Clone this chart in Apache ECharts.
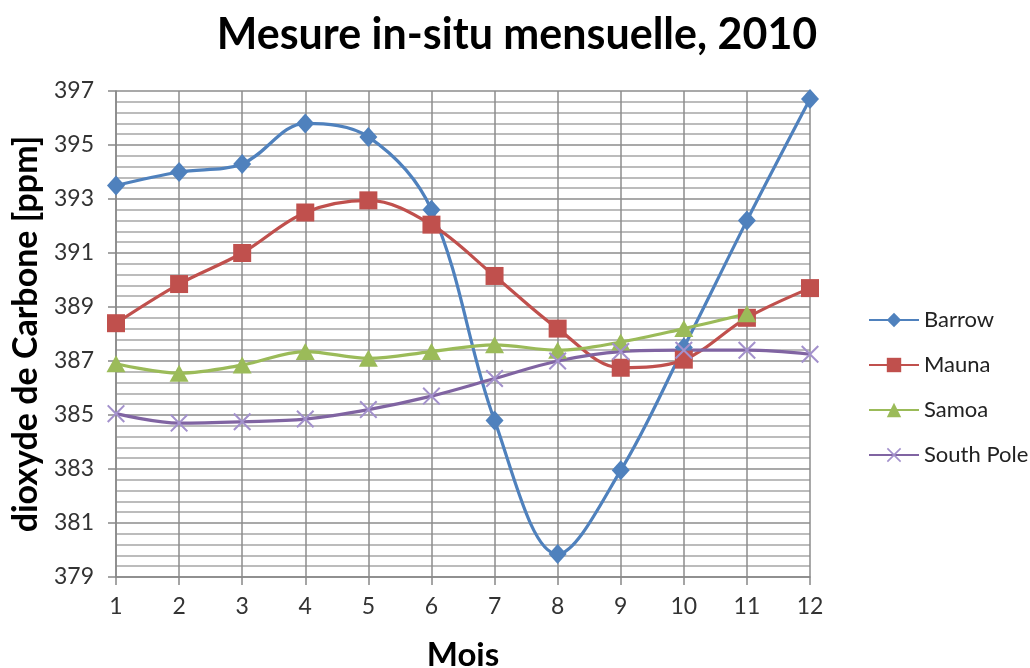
<!DOCTYPE html>
<html>
<head>
<meta charset="utf-8">
<script src="https://cdn.jsdelivr.net/npm/echarts@6/dist/echarts.min.js"></script>
<style>
  html, body { margin: 0; padding: 0; background: #fff; }
  #chart { width: 1030px; height: 668px; }
</style>
</head>
<body>
<div id="chart"></div>
<script>
const months = ["1", "2", "3", "4", "5", "6", "7", "8", "9", "10", "11", "12"];
const barrow = [393.5, 394.0, 394.3, 395.8, 395.3, 392.6, 384.8, 379.85, 382.95, 387.5, 392.2, 396.7];
const mauna = [388.4, 389.85, 391.0, 392.5, 392.95, 392.05, 390.15, 388.2, 386.75, 387.05, 388.6, 389.7];
const samoa = [386.9, 386.55, 386.85, 387.35, 387.1, 387.35, 387.6, 387.4, 387.7, 388.2, 388.75, null];
const southPole = [385.05, 384.7, 384.75, 384.85, 385.2, 385.7, 386.35, 387.0, 387.35, 387.4, 387.4, 387.25];

const fontFam = "Lato, 'Open Sans', sans-serif";
const crossPath = "path://M0,0.8 L0.8,0 L5,4.2 L9.2,0 L10,0.8 L5.8,5 L10,9.2 L9.2,10 L5,5.8 L0.8,10 L0,9.2 L4.2,5 Z";

const makeSeries = (name, data, color, symbol, size, symbolColor) => {
  return {
    name: name,
    type: "line",
    data: data,
    smooth: 0.35,
    symbol: symbol,
    symbolSize: size,
    showAllSymbol: true,
    lineStyle: { color: color, width: 3.2 },
    itemStyle: { color: symbolColor || color },
    z: 3,
  };
};

const chart = echarts.init(document.getElementById("chart"));
chart.setOption({
  animation: false,
  textStyle: { fontFamily: fontFam },
  title: {
    text: "Mesure in-situ mensuelle, 2010",
    left: 512,
    textAlign: "center",
    top: 9,
    textStyle: { fontSize: 43, fontWeight: "bold", color: "#000", fontFamily: fontFam },
  },
  legend: {
    orient: "vertical",
    left: 863,
    top: 304,
    itemWidth: 50,
    itemHeight: 18,
    itemGap: 23,
    textStyle: { fontSize: 22, color: "#222", fontFamily: fontFam },
    data: ["Barrow", "Mauna", "Samoa", "South Pole"],
  },
  grid: { left: 116, right: 220, top: 91, bottom: 91, outerBoundsMode: "none" },
  xAxis: {
    type: "category",
    data: months,
    boundaryGap: false,
    name: "Mois",
    nameLocation: "middle",
    nameGap: 62,
    nameTextStyle: { fontSize: 33, fontWeight: "bold", color: "#000" },
    axisLine: { lineStyle: { color: "#888", width: 1.5 } },
    axisTick: { show: true, length: 8, lineStyle: { color: "#888", width: 1.5 } },
    axisLabel: { fontSize: 23, color: "#333", margin: 18 },
    splitLine: { show: true, lineStyle: { color: "#8c8c8c", width: 1.5 } },
  },
  yAxis: {
    type: "value",
    min: 379,
    max: 397,
    interval: 2,
    name: "dioxyde de Carbone [ppm]",
    nameLocation: "middle",
    nameGap: 72,
    nameTextStyle: { fontSize: 34, fontWeight: "bold", color: "#000" },
    axisLine: { show: true, lineStyle: { color: "#888", width: 1.5 } },
    axisTick: { show: true, length: 8, lineStyle: { color: "#888", width: 1.5 } },
    axisLabel: { fontSize: 23, color: "#333", margin: 22 },
    splitLine: { show: true, lineStyle: { color: "#8c8c8c", width: 1.5 } },
    minorTick: { show: false, splitNumber: 5 },
    minorSplitLine: { show: true, lineStyle: { color: "#a6a6a6", width: 1.5 } },
  },
  series: [
    makeSeries("Barrow", barrow, "#4F81BD", "diamond", [18, 20]),
    makeSeries("Mauna", mauna, "#C0504D", "rect", 18),
    makeSeries("Samoa", samoa, "#9BBB59", "triangle", [19, 17]),
    makeSeries("South Pole", southPole, "#8064A2", crossPath, 18, "#A391CC"),
  ],
});
</script>
</body>
</html>
